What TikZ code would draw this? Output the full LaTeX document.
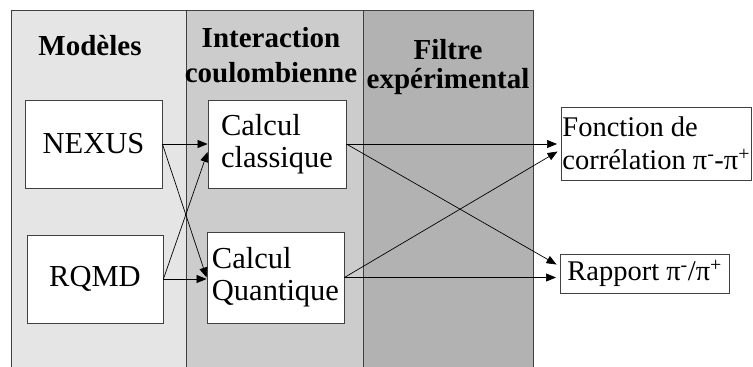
\documentclass[tikz,border=0pt]{standalone}
\usepackage{fontspec}
\setmainfont{Liberation Serif}
\usetikzlibrary{arrows.meta, positioning}

\begin{document}
\begin{tikzpicture}[
    x=1pt, y=-1pt,
    panel/.style={draw=black!75, line width=0.8pt},
    box/.style={rectangle, draw=black!75, fill=white, line width=0.8pt, inner sep=0pt, align=left, font=\fontsize{30.5}{32}\selectfont},
    titre/.style={inner sep=0pt, align=center, font=\fontsize{29}{35}\selectfont\bfseries},
    arrow/.style={-{Triangle[length=10pt, width=8pt]}, line width=0.7pt}
]
    \clip (0,0) rectangle (753,367);

    % bandes de fond
    \filldraw[panel, fill=black!10] (11,10) rectangle (186,380);
    \filldraw[panel, fill=black!20] (186,10) rectangle (363,380);
    \filldraw[panel, fill=black!30] (363,10) rectangle (533,380);

    \node[titre, anchor=base] (modeles) at (90,55) {Modèles};
    \node[titre, anchor=base] (interaction) at (271,82) {Interaction\\coulombienne};
    \node[titre, anchor=base, font=\fontsize{29}{29}\selectfont\bfseries] (filtre) at (448,88) {Filtre\\expérimental};

    \node[box, minimum width=137pt, minimum height=88pt] (nexus) at (93.5,144) {NEXUS};
    \node[box, minimum width=136pt, minimum height=88pt] (rqmd) at (95,279) {RQMD};
    \node[box, minimum width=138pt, minimum height=88pt] (classique) at (277,144) {Calcul\\classique};
    \node[box, minimum width=137pt, minimum height=91pt] (quantique) at (275.5,277.5) {Calcul\\Quantique};

    % resultats, a droite
    \node[box, anchor=west, minimum height=73pt, inner xsep=1pt, font=\fontsize{28.5}{33}\selectfont] (fonction) at (561,143.5) {Fonction de\\corrélation π\textsuperscript{-}-π\textsuperscript{+}};
    \node[box, anchor=west, minimum height=39pt, inner xsep=7pt, font=\fontsize{28.5}{32}\selectfont] (rapport) at (560,273.5) {Rapport π\textsuperscript{-}/π\textsuperscript{+}};

    \draw[arrow] (nexus.east) -- (classique.west);
    \draw[arrow] (nexus.east) -- (quantique.west);
    \draw[arrow] (rqmd.east) -- ([yshift=-8pt]classique.west);
    \draw[arrow] (rqmd.east) -- (rqmd.east -| quantique.west);

    \draw[arrow, shorten >=4pt] (classique.east) -- (classique.east -| fonction.west);
    \draw[arrow, shorten >=4pt] (classique.east) -- ([yshift=7pt]rapport.west);
    \draw[arrow, shorten >=4pt] (quantique.east) -- ([yshift=-6pt]fonction.west);
    \draw[arrow, shorten >=4pt] (quantique.east) -- (quantique.east -| rapport.west);
\end{tikzpicture}
\end{document}
